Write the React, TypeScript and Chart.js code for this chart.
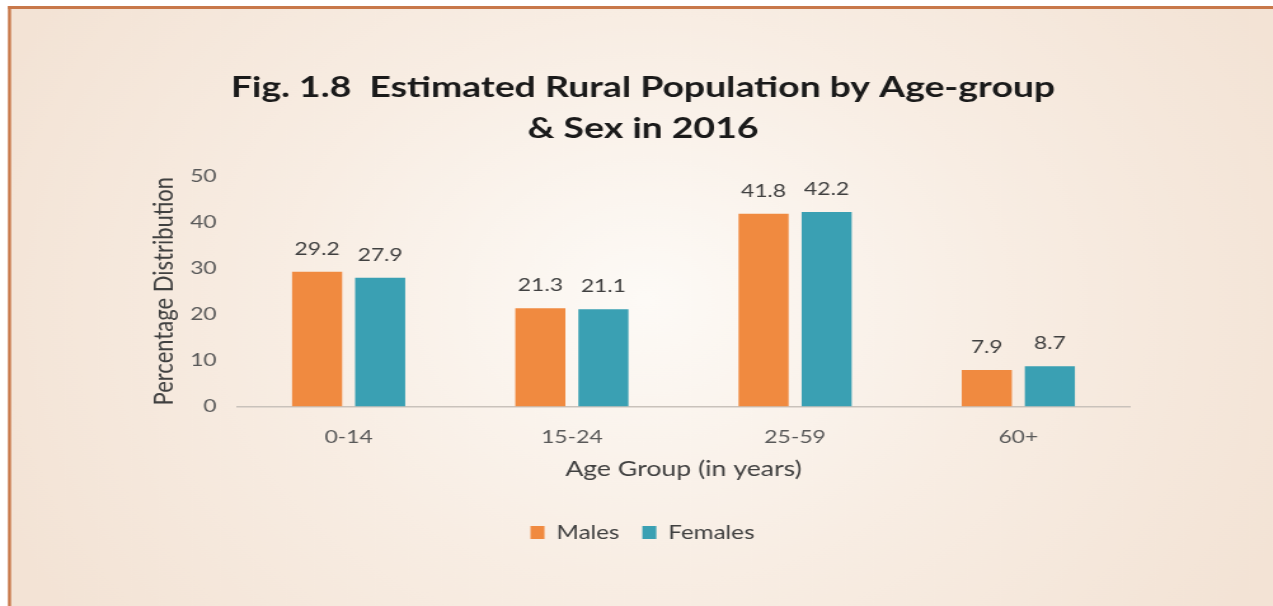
import React, { useEffect, useRef } from "react";
import { Chart, registerables } from "chart.js";

Chart.register(...registerables);

const categories = ["0-14", "15-24", "25-59", "60+"];
const males = [29.2, 21.3, 41.8, 7.9];
const females = [27.9, 21.1, 42.2, 8.7];
const seriesNames = ["Males", "Females"];
const yTicks = [0, 10, 20, 30, 40, 50];
const titleLines = ["Fig. 1.8  Estimated Rural Population by Age-group", "& Sex in 2016"];

const FONT = "Lato, 'Open Sans', sans-serif";
const OUT_W = 1273;
const OUT_H = 606;
const STRETCH = 1.2705;
const W = Math.round(OUT_W / STRETCH);
const PAD_LEFT = 122;

const bgPlugin = {
  id: "bgPlugin",
  beforeDraw(chart: any) {
    const { ctx, width, height } = chart;
    ctx.save();
    ctx.fillStyle = "#ffffff";
    ctx.fillRect(0, 0, width, height);
    const g = ctx.createRadialGradient(508, 300, 5, 508, 300, 560);
    g.addColorStop(0, "#fdfaf6");
    g.addColorStop(0.5, "#f8ede3");
    g.addColorStop(1, "#f3e3d5");
    ctx.fillStyle = g;
    ctx.fillRect(8 / STRETCH, 7, width, height);
    ctx.fillStyle = "#c8784a";
    ctx.fillRect(8 / STRETCH, 6, 3 / STRETCH, height);
    ctx.fillRect(8 / STRETCH, 6, width, 3);
    ctx.restore();
  },
};

const textPlugin = {
  id: "textPlugin",
  afterDatasetsDraw(chart: any) {
    const { ctx } = chart;
    ctx.save();
    // title
    ctx.font = `bold 29.4px ${FONT}`;
    ctx.fillStyle = "#1a1a1a";
    ctx.textAlign = "center";
    ctx.textBaseline = "middle";
    ctx.fillText(titleLines[0], 643 / STRETCH, 88);
    ctx.fillText(titleLines[1], 643 / STRETCH, 129);
    // data labels
    ctx.font = `18px ${FONT}`;
    ctx.fillStyle = "#404040";
    chart.data.datasets.forEach((ds: any, i: number) => {
      const meta = chart.getDatasetMeta(i);
      meta.data.forEach((bar: any, j: number) => {
        ctx.fillText(String(ds.data[j]), bar.x, bar.y - 23);
      });
    });
    ctx.restore();
  },
};

export default function App() {
  const ref = useRef<HTMLCanvasElement>(null);
  useEffect(() => {
    if (!ref.current) return;
    const chart = new Chart(ref.current, {
      type: "bar",
      data: {
        labels: categories,
        datasets: [
          { label: seriesNames[0], data: males, backgroundColor: "#F08A40" },
          { label: seriesNames[1], data: females, backgroundColor: "#3AA0B3" },
        ],
      },
      options: {
        animation: false,
        responsive: false,
        maintainAspectRatio: false,
        devicePixelRatio: 1,
        layout: { padding: { left: PAD_LEFT, right: W - 1130 / STRETCH, top: 176, bottom: 54 } },
        datasets: {
          bar: { categoryPercentage: 0.565, barPercentage: 0.794 },
        },
        plugins: {
          title: { display: false },
          legend: {
            display: true,
            position: "bottom",
            labels: {
              color: "#404040",
              font: { family: FONT, size: 19 },
              boxWidth: 11,
              boxHeight: 13,
              padding: 18,
            },
          },
          tooltip: { enabled: false },
        },
        scales: {
          x: {
            afterFit: (axis: any) => {
              axis.height = 98.6;
            },
            grid: { display: false, drawTicks: false },
            border: { display: true, color: "#c9c2bb", width: 1.5 },
            ticks: { color: "#595959", font: { family: FONT, size: 18 }, padding: 20 },
            title: {
              display: true,
              text: "Age Group (in years)",
              color: "#404040",
              font: { family: FONT, size: 21 },
              padding: { top: 4, bottom: 23 },
            },
          },
          y: {
            min: 0,
            max: 50,
            afterBuildTicks: (axis: any) => {
              axis.ticks = yTicks.map((v) => ({ value: v }));
            },
            afterFit: (axis: any) => {
              axis.width = 237 / STRETCH - PAD_LEFT;
            },
            grid: { display: false, drawTicks: false },
            border: { display: false },
            ticks: { color: "#595959", font: { family: FONT, size: 18 }, padding: 16 },
            title: {
              display: true,
              text: "Percentage Distribution",
              color: "#404040",
              font: { family: FONT, size: 22 },
              padding: { top: -6, bottom: 6 },
            },
          },
        },
      },
      plugins: [bgPlugin, textPlugin],
    });
    return () => chart.destroy();
  }, []);
  return (
    <div style={{ position: "absolute", left: 0, top: 0, width: OUT_W, height: OUT_H, overflow: "hidden" }}>
      <canvas
        ref={ref}
        width={W}
        height={OUT_H}
        style={{ display: "block", width: OUT_W + "px", height: OUT_H + "px" }}
      />
    </div>
  );
}
